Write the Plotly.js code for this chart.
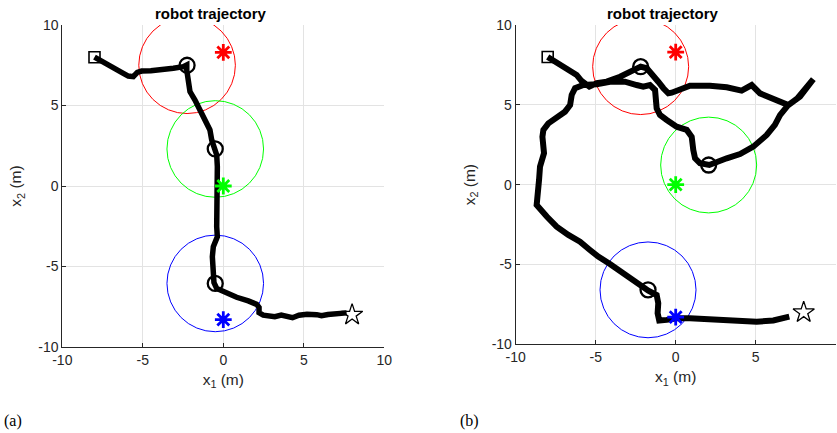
<!DOCTYPE html>
<html>
<head>
<meta charset="utf-8">
<script src="https://cdn.plot.ly/plotly-3.0.1.min.js"></script>
<style>html,body{margin:0;padding:0;background:#fff;}#chart{width:837px;height:433px;}</style>
</head>
<body>
<div id="chart"></div>
<script>
// ---- data ----
const panelTitles = ['robot trajectory', 'robot trajectory'];
const panelLabels = ['(a)', '(b)'];
const tickVals = [-10, -5, 0, 5, 10];
const tickText = ['-10', '-5', '0', '5', '10'];

// landmarks
const landmarkX = [0, 0, 0];
const landmarkY = [8.3, 0, -8.3];
const landmarkColors = ['#ff0000', '#00ff00', '#0000ff'];
const sensingRadius = 3;

// start / goal
const startXY = [-8, 8];
const goalXY = [8, -8];

// panel (a) trajectory
const trajAx = [-8.0,-7.45,-6.83,-6.21,-5.9,-5.59,-5.34,-5.07,-4.5,-3.93,-3.1,-2.48,-2.27,-2.27,-2.17,-2.07,-1.76,-1.45,-1.03,-0.83,-0.72,-0.58,-0.41,-0.37,-0.41,-0.45,-0.41,-0.37,-0.62,-0.68,-0.66,-0.62,-0.58,-0.41,0.21,0.83,1.55,2.07,2.22,2.22,2.48,2.9,3.2,3.6,4.0,4.3,4.7,5.2,5.8,6.1,6.5,7.04,7.66];
const trajAy = [8.0,7.72,7.31,7.0,6.83,6.79,7.06,7.14,7.16,7.2,7.31,7.41,7.52,7.2,6.48,5.86,5.34,4.72,4.0,3.48,2.86,2.28,1.93,1.2,-0.04,-1.29,-2.53,-3.15,-3.77,-4.39,-5.22,-5.84,-6.0,-6.36,-6.67,-6.91,-7.14,-7.35,-7.54,-7.87,-8.02,-8.08,-8.12,-8.02,-8.1,-8.18,-8.03,-7.96,-7.99,-8.06,-7.98,-7.93,-7.88];
const detectAx = [-2.25, -0.5, -0.5];
const detectAy = [7.5, 2.3, -6.05];

// panel (b) trajectory
const trajBx = [-8.0,-7.86,-7.23,-6.6,-6.19,-5.88,-5.4,-4.94,-4.31,-3.48,-2.75,-2.19,-1.81,-1.4,-1.09,-0.77,-0.46,-0.25,0.27,0.89,2.14,3.19,4.12,4.75,5.27,6.1,7.04,7.77,8.19,8.6,8.1,7.6,7.0,6.52,6.2,5.69,4.85,4.02,3.19,2.35,2.1,1.52,1.21,1.1,1.0,0.69,0.06,-0.56,-0.98,-1.19,-1.23,-1.29,-1.61,-2.03,-2.44,-3.17,-4.11,-4.94,-5.77,-6.29,-6.5,-6.6,-6.92,-7.44,-7.96,-8.27,-8.33,-8.23,-8.48,-8.54,-8.69,-8.06,-7.44,-6.71,-5.98,-5.36,-4.84,-4.11,-3.27,-2.44,-1.71,-1.19,-1.09,-1.13,-1.03,-0.56,0.06,0.89,1.94,2.98,4.02,5.06,6.1,6.63,7.1];
const trajBy = [8.0,7.91,7.5,7.18,6.87,6.49,6.14,6.35,6.45,6.76,7.12,7.39,7.29,6.87,6.45,6.04,5.72,5.76,5.93,6.2,6.2,6.1,5.89,6.24,5.72,5.35,4.99,5.51,6.04,6.6,6.0,5.4,4.95,4.36,3.74,3.11,2.38,1.92,1.65,1.34,1.23,1.34,1.65,2.17,3.0,3.43,3.63,4.05,4.36,4.78,5.41,5.93,6.24,6.14,6.24,6.45,6.45,6.29,6.24,6.04,5.62,4.99,4.57,4.16,3.84,3.43,3.0,1.97,1.13,0.3,-1.27,-2.0,-2.63,-3.15,-3.57,-4.09,-4.51,-4.97,-5.55,-6.17,-6.64,-6.91,-7.43,-8.05,-8.51,-8.47,-8.37,-8.37,-8.43,-8.43,-8.58,-8.58,-8.51,-8.37,-8.27];
const detectBx = [-2.19, 2.06, -1.73];
const detectBy = [7.39, 1.23, -6.59];

// ---- build ----
const W = 837, H = 433;
const sans = 'Liberation Sans, Arial, sans-serif';
const axFont = {family: sans, size: 14, color: '#262626'};

function panelTraces(tx, ty, dx, dy, xa, ya, lw) {
  return [
    {x: tx, y: ty, xaxis: xa, yaxis: ya, mode: 'lines', line: {color: '#000', width: lw}, hoverinfo: 'skip'},
    {x: dx, y: dy, xaxis: xa, yaxis: ya, mode: 'markers', marker: {symbol: 'circle-open', size: 15, color: '#000', line: {width: 2.3, color: '#000'}}},
    {x: landmarkX, y: landmarkY, xaxis: xa, yaxis: ya, mode: 'markers', marker: {symbol: 'asterisk-open', size: 14, color: landmarkColors, line: {width: 2.8, color: landmarkColors}}},
    {x: [startXY[0]], y: [startXY[1]], xaxis: xa, yaxis: ya, mode: 'markers', marker: {symbol: 'square-open', size: 11, color: '#000', line: {width: 1.6, color: '#000'}}},
    {x: [goalXY[0]], y: [goalXY[1]], xaxis: xa, yaxis: ya, mode: 'markers', marker: {symbol: 'star-open', size: 16, color: '#000', line: {width: 1.3, color: '#000'}}}
  ];
}

function circleShapes(dx, dy, xr, yr) {
  return dx.map((cx, i) => ({
    type: 'circle', xref: xr, yref: yr, layer: 'between',
    x0: cx - sensingRadius, x1: cx + sensingRadius,
    y0: dy[i] - sensingRadius, y1: dy[i] + sensingRadius,
    line: {color: landmarkColors[i], width: 1}
  }));
}

function axis(domain, anchor, titleText, isY) {
  return {
    domain: domain, anchor: anchor, range: [-10, 10],
    tickmode: 'array', tickvals: tickVals, ticktext: tickText,
    ticks: 'inside', ticklen: 4, tickcolor: '#262626', tickwidth: 1,
    showline: true, linecolor: '#262626', linewidth: 1,
    showgrid: true, gridcolor: '#e3e3e3', gridwidth: 1,
    zeroline: false, tickfont: axFont, fixedrange: true,
    title: {text: titleText, font: {family: sans, size: 15.5, color: '#262626'}, standoff: isY ? 12 : 7},
    automargin: false
  };
}

const traces = [].concat(
  panelTraces(trajAx, trajAy, detectAx, detectAy, 'x', 'y', 5.5),
  panelTraces(trajBx, trajBy, detectBx, detectBy, 'x2', 'y2', 6)
);

const layout = {
  width: W, height: H, margin: {l: 0, r: 0, t: 0, b: 0},
  paper_bgcolor: '#fff', plot_bgcolor: '#fff', showlegend: false,
  xaxis: axis([62.3 / W, 384.3 / W], 'y', 'x<sub>1</sub> (m)', false),
  yaxis: axis([(H - 347) / H, (H - 25) / H], 'x', 'x<sub>2</sub> (m)', true),
  xaxis2: axis([515.7 / W, 835.7 / W], 'y2', 'x<sub>1</sub> (m)', false),
  yaxis2: axis([(H - 344.3) / H, (H - 25) / H], 'x2', 'x<sub>2</sub> (m)', true),
  shapes: [].concat(circleShapes(detectAx, detectAy, 'x', 'y'), circleShapes(detectBx, detectBy, 'x2', 'y2')),
  annotations: [
    {text: '<b>' + panelTitles[0] + '</b>', xref: 'paper', yref: 'paper', x: 211 / W, y: (H - 13) / H, xanchor: 'center', yanchor: 'middle', showarrow: false, font: {family: sans, size: 15, color: '#000'}},
    {text: '<b>' + panelTitles[1] + '</b>', xref: 'paper', yref: 'paper', x: 663 / W, y: (H - 13) / H, xanchor: 'center', yanchor: 'middle', showarrow: false, font: {family: sans, size: 15, color: '#000'}},
    {text: panelLabels[0], xref: 'paper', yref: 'paper', x: 2 / W, y: (H - 421) / H, xanchor: 'left', yanchor: 'middle', showarrow: false, font: {family: 'Liberation Serif, serif', size: 16, color: '#000'}},
    {text: panelLabels[1], xref: 'paper', yref: 'paper', x: 458 / W, y: (H - 421) / H, xanchor: 'left', yanchor: 'middle', showarrow: false, font: {family: 'Liberation Serif, serif', size: 16, color: '#000'}}
  ]
};

Plotly.newPlot('chart', traces, layout, {staticPlot: true, displayModeBar: false});
</script>
</body>
</html>
